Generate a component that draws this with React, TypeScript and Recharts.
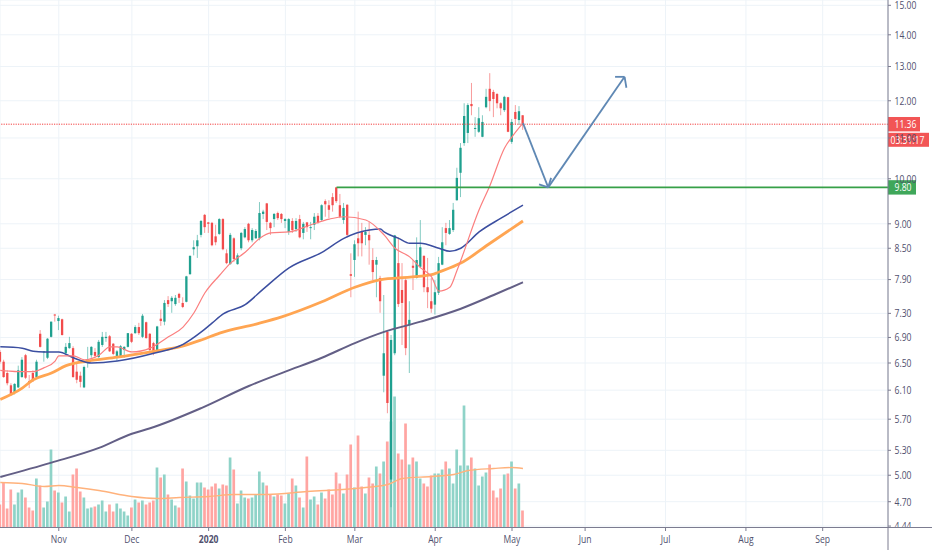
import React from "react";
import { ComposedChart, Bar, Line, XAxis, YAxis, CartesianGrid, ReferenceLine } from "recharts";

const UP = "#1fa08f";
const DOWN = "#f24b4b";
const FONT = "'Open Sans', sans-serif";
const TEXT = "#50506e";
const AXIS = "#7c7c90";
const GRID = "#edf3f8";

const opens = [6.67,6.52,6.35,6.17,6.06,6.14,6.29,6.62,6.23,6.35,6.29,6.96,6.67,6.58,6.91,7.28,7.17,7.2,6.65,6.73,
6.73,6.37,6.31,6.14,6.5,6.62,6.67,6.59,6.78,6.89,6.92,6.8,6.58,6.59,6.7,6.75,6.96,6.97,7.07,6.91,
7.15,6.96,6.81,6.7,7.21,7.16,7.53,7.51,7.46,7.64,7.48,7.5,8.0,8.48,8.54,8.77,9.19,9.03,9.02,8.74,
8.79,9.1,8.4,8.19,8.7,8.19,8.5,8.72,9.0,8.66,8.7,8.7,9.21,9.44,9.02,9.1,9.23,9.21,9.06,8.83,
9.06,8.89,9.1,8.81,9.03,8.91,8.98,9.17,9.08,9.49,9.4,9.58,9.8,9.4,9.08,9.41,8.0,8.27,8.7,8.83,
8.77,8.77,8.27,8.18,7.93,6.31,6.99,4.95,6.65,8.21,7.71,7.89,7.1,8.16,7.93,8.14,8.35,7.76,7.51,7.45,
7.66,8.18,8.91,8.79,8.87,9.51,10.14,10.87,11.13,11.91,11.24,11.16,11.03,11.82,12.34,12.25,12.19,11.93,11.74,12.1,
10.9,11.69,11.47,11.6];
const highs = [6.7,6.55,6.39,6.2,6.2,6.46,6.59,6.64,6.32,6.39,6.55,7.02,6.68,6.89,7.16,7.29,7.26,7.21,6.81,6.91,
6.76,6.5,6.37,6.46,6.75,6.76,6.73,6.86,6.99,6.99,6.94,6.81,6.7,6.78,6.76,6.97,6.97,7.1,7.14,7.29,
7.16,6.97,6.83,7.09,7.36,7.53,7.6,7.6,7.62,7.66,7.58,7.97,8.36,8.66,8.77,9.08,9.21,9.04,9.04,8.98,
9.12,9.12,8.48,8.81,8.72,8.4,8.83,8.93,9.02,8.91,8.89,9.47,9.3,9.45,9.04,9.23,9.26,9.23,9.12,9.12,
9.12,9.12,9.19,9.04,9.04,9.04,9.23,9.23,9.42,9.53,9.51,9.67,9.81,9.65,9.45,9.42,8.4,8.66,9.26,9.02,
8.93,9.04,8.5,8.33,7.97,7.62,7.02,6.94,8.77,8.72,8.21,7.93,7.51,8.27,8.72,9.08,8.36,8.31,7.93,7.89,
8.33,8.93,9.02,9.08,9.45,10.26,10.87,11.93,11.93,12.51,11.55,11.82,11.6,12.34,12.8,12.31,12.22,11.96,12.14,12.11,
11.5,11.88,11.85,11.6];
const lows = [6.49,6.28,6.17,6.02,6.04,6.13,6.28,6.26,6.13,6.22,6.28,6.74,6.52,6.56,6.9,7.16,7.02,6.93,6.62,6.72,
6.28,6.2,6.14,6.13,6.43,6.58,6.58,6.58,6.75,6.83,6.67,6.62,6.53,6.58,6.58,6.74,6.81,6.96,6.94,6.89,
6.88,6.65,6.62,6.69,7.09,7.1,7.41,7.31,7.43,7.48,7.39,7.49,7.99,8.36,8.31,8.72,8.81,8.81,8.54,8.56,
8.77,8.46,8.19,8.18,8.23,8.18,8.46,8.7,8.62,8.62,8.69,8.66,9.1,8.87,8.77,8.93,9.08,9.02,8.91,8.77,
8.81,8.83,8.7,8.68,8.83,8.68,8.87,9.0,9.06,9.15,9.12,9.26,9.45,9.12,9.0,8.72,7.58,7.95,8.34,8.34,
8.56,8.18,7.89,7.58,7.31,6.07,5.78,4.64,6.62,7.41,6.78,6.62,6.35,7.71,7.92,8.12,7.67,7.39,7.31,7.28,
7.62,8.17,8.56,8.77,8.83,9.5,9.58,10.8,10.87,11.6,11.03,11.13,11.02,11.79,11.71,11.55,11.79,11.6,11.69,11.15,
10.85,11.36,11.34,11.21];
const closes = [6.52,6.29,6.2,6.03,6.19,6.39,6.55,6.28,6.22,6.23,6.52,6.75,6.68,6.88,7.16,7.27,7.22,6.94,6.75,6.81,
6.29,6.25,6.22,6.44,6.55,6.75,6.61,6.83,6.91,6.91,6.68,6.64,6.68,6.76,6.75,6.97,6.83,7.07,6.97,7.26,
6.89,6.7,6.65,7.08,7.17,7.48,7.46,7.57,7.57,7.57,7.41,7.96,8.35,8.52,8.66,9.06,8.93,9.0,8.56,8.62,
9.1,8.48,8.21,8.77,8.29,8.36,8.81,8.89,8.66,8.87,8.85,9.23,9.26,9.04,8.91,9.21,9.12,9.1,9.1,9.1,
8.87,9.06,8.72,9.0,8.93,8.93,9.15,9.02,9.4,9.42,9.3,9.4,9.49,9.15,9.34,8.77,7.97,8.58,8.6,8.6,
8.83,8.66,8.04,8.27,7.51,6.65,5.92,6.86,8.76,7.46,7.48,6.73,7.19,8.12,8.27,8.52,7.76,7.67,7.38,7.67,
8.21,8.62,8.81,8.91,9.3,10.02,10.75,11.58,11.88,11.85,11.26,11.52,11.42,12.11,11.99,12.05,11.93,11.79,12.11,11.16,
11.42,11.5,11.71,11.36];
const volumes = [2.3,4.5,1.9,3.8,2.3,3.5,3.8,3.0,2.0,1.7,4.9,4.2,2.0,2.6,7.8,3.7,3.5,2.5,3.1,1.6,
5.3,5.9,3.6,3.0,1.9,2.0,2.1,2.3,2.7,1.6,2.3,1.6,2.4,1.9,1.6,1.2,2.0,2.8,2.5,2.7,
2.3,2.5,2.7,6.0,5.0,5.3,3.3,2.8,2.2,2.0,5.9,4.6,3.2,2.9,4.5,4.5,4.0,3.8,4.1,4.4,
3.9,4.3,4.2,7.0,5.8,2.4,3.7,3.0,2.9,3.0,3.3,5.6,4.5,4.2,3.3,3.1,3.3,3.2,2.4,3.4,
4.9,4.2,3.0,2.0,7.1,2.8,3.1,2.3,3.5,2.9,3.8,3.3,5.5,4.4,3.4,5.3,8.3,4.0,9.2,4.1,
3.4,5.0,4.4,6.1,5.4,6.6,8.6,10.6,13.1,7.4,6.8,10.4,6.3,7.0,6.6,4.9,4.4,4.1,5.2,5.4,
5.4,5.8,6.6,5.9,4.4,7.8,6.2,12.2,6.2,7.0,5.9,4.2,5.1,5.5,6.3,3.7,3.0,3.9,5.3,5.4,
6.6,3.9,4.4,1.7];

const ma200Points = [[0,4.98],[14,5.15],[27,5.33],[36,5.51],[41,5.58],[55,5.85],[68,6.16],[78,6.37],[88,6.58],[97,6.81],[105,6.99],[115,7.16],[126,7.38],[135,7.62],[143,7.85]];
const ma50Points = [[0,5.97],[6,6.13],[9,6.25],[14,6.35],[18,6.46],[24,6.53],[32,6.59],[42,6.68],[49,6.75],[55,6.86],[60,6.97],[70,7.12],[77,7.24],[88,7.5],[97,7.76],[105,7.91],[109,7.93],[118,7.99],[120,8.04],[126,8.21],[134,8.6],[143,9.06]];
const ma30Points = [[0,6.75],[6,6.73],[9,6.68],[12,6.67],[16,6.67],[20,6.58],[25,6.5],[32,6.53],[42,6.65],[50,6.79],[55,6.99],[58,7.14],[61,7.29],[67,7.45],[72,7.73],[79,8.12],[88,8.42],[94,8.7],[101,8.87],[104,8.89],[105,8.83],[109,8.7],[112,8.6],[115,8.6],[120,8.5],[123,8.44],[126,8.5],[131,8.83],[137,9.12],[143,9.4]];
const ma10Points = [[0,6.39],[2,6.38],[5,6.37],[9,6.37],[12,6.43],[15,6.53],[16,6.61],[20,6.61],[23,6.55],[27,6.62],[30,6.75],[32,6.75],[36,6.67],[41,6.73],[46,6.91],[50,7.07],[53,7.31],[56,7.66],[60,7.98],[63,8.21],[67,8.42],[71,8.7],[74,8.81],[79,8.83],[85,8.98],[90,9.1],[94,9.15],[100,9.08],[105,8.77],[108,8.5],[112,8.33],[115,8.12],[118,7.95],[120,7.69],[123,7.76],[125,8.08],[131,9.3],[134,9.85],[138,10.75],[140,11.03],[143,11.39]];
const volumeMaPoints = [[0,4.5],[6,4.4],[12,4.1],[16,4.2],[21,4.0],[27,3.7],[36,3.1],[43,2.9],[49,3.0],[57,3.1],[64,3.3],[73,3.3],[84,3.6],[97,3.9],[106,4.3],[110,4.9],[118,5.1],[124,5.3],[128,5.7],[135,5.9],[140,6.0],[143,5.9]];

const priceTicks = [15,14,13,12,11,10,9,8.5,7.9,7.3,6.9,6.5,6.1,5.7,5.3,5,4.7,4.44];
const timeTicks = [16,36,57,78,97,119,140,160,182,204,225];
const timeLabels = ["Nov","Dec","2020","Feb","Mar","Apr","May","Jun","Jul","Aug","Sep"];

const LAST_PRICE = 11.36;
const LEVEL_PRICE = 9.8;
const COUNTDOWN = "03:31:17";
const levelStart = 92;
const lastSlot = 242.87;
const arrowPath = [[143,11.39],[149.9,9.8],[170.8,12.69]];
const arrowHeads = [[[147.4,9.87],[149.9,9.8],[150.7,10.02]],[[168.2,12.69],[170.8,12.69],[171.3,12.37]]];

const toRows = (pts: number[][]) => pts.map(([i, v]) => ({ i, v }));

const rows = opens.map((open, i) => ({
  i,
  open,
  high: highs[i],
  low: lows[i],
  close: closes[i],
  volume: volumes[i],
}));

function NarrowText({ x, y, fill, anchor, weight, children }: any) {
  return (
    <text
      transform={`translate(${x} ${y}) scale(0.78 1)`}
      dy="0.35em"
      textAnchor={anchor ?? "start"}
      fill={fill}
      fontSize={11}
      fontWeight={weight ?? 400}
      fontFamily={FONT}
    >
      {children}
    </text>
  );
}

function Candle(props: any) {
  const { x, width, y, height, payload } = props;
  const { open, high, low, close } = payload;
  const cx = x + width / 2;
  const span = Math.log(high / low);
  const at = (p: number) => y + (height * Math.log(high / p)) / span;
  const up = close >= open;
  const color = up ? UP : DOWN;
  const top = at(Math.max(open, close));
  const bottom = at(Math.min(open, close));
  return (
    <g>
      <line x1={cx} x2={cx} y1={y} y2={y + height} stroke={color} strokeOpacity={0.55} strokeWidth={1} />
      <rect x={cx - 1.15} width={2.3} y={top} height={Math.max(bottom - top, 1)} fill={color} />
    </g>
  );
}

function VolumeBar(props: any) {
  const { x, width, y, height, payload } = props;
  const up = payload.close >= payload.open;
  return <rect x={x} y={y} width={width} height={height} fill={up ? "#8fd3c8" : "#ffa5a2"} />;
}

function PriceTick(props: any) {
  const { x, y, payload } = props;
  const isBottom = payload.value === 4.44;
  return (
    <g>
      <line x1={x} x2={x + 3} y1={y} y2={y} stroke={AXIS} strokeWidth={1} />
      <NarrowText x={x + 6.5} y={y} fill={TEXT}>
        {payload.value.toFixed(2)}
      </NarrowText>
      {isBottom && (
        <g>
          <rect x={x + 0.5} y={527} width={44} height={23} fill="#ffffff" />
          <line x1={x} x2={932} y1={527.5} y2={527.5} stroke={AXIS} strokeWidth={1} />
          <line x1={x} x2={x} y1={527} y2={550} stroke={AXIS} strokeWidth={1} />
        </g>
      )}
    </g>
  );
}

function TimeTick(props: any) {
  const { x, payload } = props;
  const label = timeLabels[timeTicks.indexOf(payload.value)];
  return (
    <g>
      <line x1={x} x2={x} y1={527.5} y2={531} stroke={AXIS} strokeWidth={1} />
      <NarrowText x={x} y={539.5} fill={TEXT} anchor="middle" weight={label === "2020" ? 700 : 400}>
        {label}
      </NarrowText>
    </g>
  );
}

function Tag({ py, width, fill, text }: { py: number; width: number; fill: string; text: string }) {
  return (
    <g>
      <rect x={888} y={py - 7.2} width={width} height={14.4} fill={fill} />
      <NarrowText x={894.5} y={py} fill="#ffffff">
        {text}
      </NarrowText>
    </g>
  );
}

function LastPriceLabel(props: any) {
  const py = props.viewBox.y;
  return (
    <g>
      <Tag py={py} width={32} fill="#f25555" text={LAST_PRICE.toFixed(2)} />
      <rect x={888} y={py + 8.6} width={41} height={14} fill="#f25555" />
      <NarrowText x={890.5} y={py + 15.6} fill="#ffffff">
        {COUNTDOWN}
      </NarrowText>
    </g>
  );
}

function LevelLabel(props: any) {
  return <Tag py={props.viewBox.y} width={28} fill="#3fa75a" text={LEVEL_PRICE.toFixed(2)} />;
}

function segments(path: number[][]) {
  return path.slice(1).map((p, k) => [path[k], p]);
}

function maLine(points: number[][], yAxisId: string, stroke: string, strokeWidth: number, name: string) {
  return (
    <Line
      key={name}
      name={name}
      data={toRows(points)}
      xAxisId="t"
      yAxisId={yAxisId}
      dataKey="v"
      type="monotone"
      dot={false}
      activeDot={false}
      stroke={stroke}
      strokeWidth={strokeWidth}
      isAnimationActive={false}
    />
  );
}

export default function App() {
  const arrowSegments = [...segments(arrowPath), ...arrowHeads.flatMap(segments)];
  return (
    <div style={{ position: "absolute", left: 0, top: 0, width: 932, height: 550 }}>
      <ComposedChart width={932} height={550} data={rows} margin={{ top: 0, right: 0, bottom: 0, left: 0 }}>
        <CartesianGrid xAxisId="t" yAxisId="p" stroke={GRID} strokeWidth={1} />
        <XAxis
          xAxisId="t"
          type="number"
          dataKey="i"
          domain={[-0.08, lastSlot]}
          allowDataOverflow
          ticks={timeTicks}
          interval={0}
          height={22.5}
          tick={<TimeTick />}
          tickLine={false}
          axisLine={{ stroke: AXIS }}
        />
        <XAxis xAxisId="tv" type="number" dataKey="i" domain={[-0.08, lastSlot]} allowDataOverflow ticks={timeTicks} hide />
        <YAxis
          yAxisId="p"
          orientation="right"
          scale="log"
          domain={[4.425, 15.187]}
          allowDataOverflow
          ticks={priceTicks}
          interval={0}
          width={44}
          tick={<PriceTick />}
          tickSize={0}
          tickMargin={0}
          tickLine={false}
          axisLine={{ stroke: AXIS }}
        />
        <YAxis yAxisId="v" hide domain={[0, 52.75]} allowDataOverflow />
        <Bar xAxisId="tv" yAxisId="v" dataKey="volume" barSize={2.7} shape={<VolumeBar />} isAnimationActive={false} />
        {maLine(volumeMaPoints, "v", "#ffb27c", 1.4, "volume average")}
        <Bar xAxisId="t" yAxisId="p" dataKey={(r: any) => [r.low, r.high]} barSize={3} shape={<Candle />} isAnimationActive={false} />
        {maLine(ma200Points, "p", "#635f86", 2, "ma200")}
        {maLine(ma50Points, "p", "#ffa552", 2.8, "ma50")}
        {maLine(ma30Points, "p", "#3b4ea0", 1.5, "ma30")}
        {maLine(ma10Points, "p", "#fb7f7f", 1.2, "ma10")}
        <ReferenceLine xAxisId="t" yAxisId="p" y={LAST_PRICE} stroke="#f23f3f" strokeWidth={1} strokeDasharray="1.2 1.2" label={<LastPriceLabel />} />
        <ReferenceLine
          xAxisId="t"
          yAxisId="p"
          segment={[{ x: levelStart, y: LEVEL_PRICE }, { x: lastSlot, y: LEVEL_PRICE }]}
          stroke="#37a047"
          strokeWidth={1.8}
          label={<LevelLabel />}
        />
        {arrowSegments.map(([a, b], k) => (
          <ReferenceLine
            key={k}
            xAxisId="t"
            yAxisId="p"
            segment={[{ x: a[0], y: a[1] }, { x: b[0], y: b[1] }]}
            stroke="#5f88b4"
            strokeWidth={1.8}
          />
        ))}
      </ComposedChart>
    </div>
  );
}
